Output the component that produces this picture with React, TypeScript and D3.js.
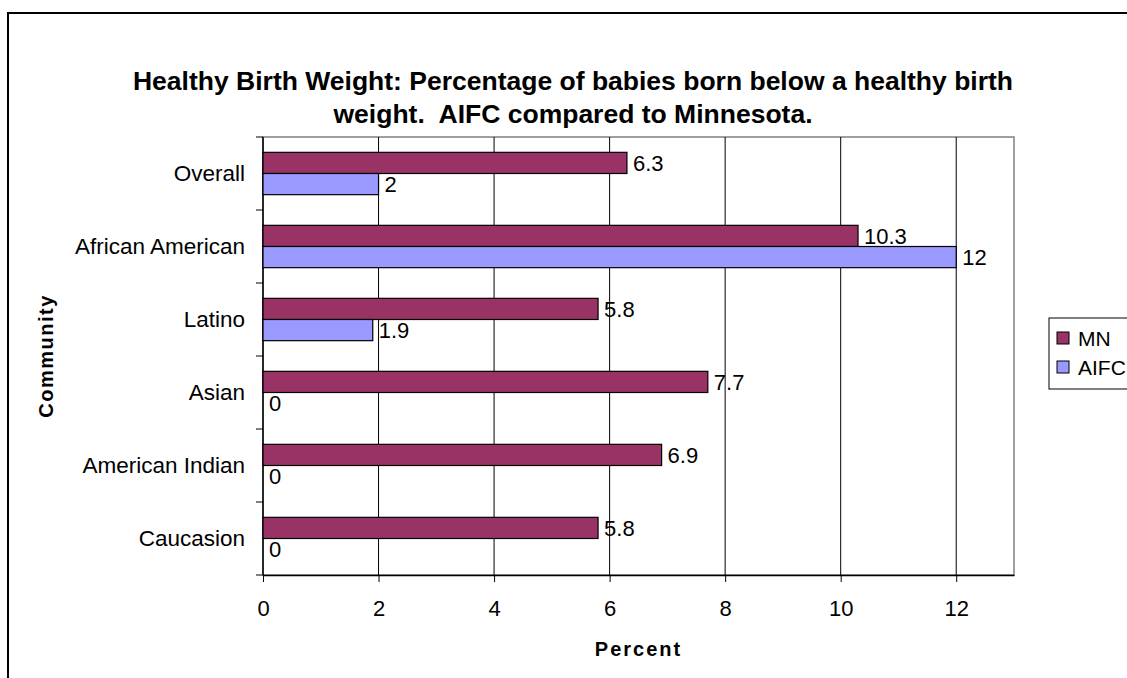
import React, { useEffect, useRef } from 'react';
import * as d3 from 'd3';

const categories = ['Overall', 'African American', 'Latino', 'Asian', 'American Indian', 'Caucasion'];
const seriesNames = ['MN', 'AIFC'];
const mnValues = [6.3, 10.3, 5.8, 7.7, 6.9, 5.8];
const aifcValues = [2, 12, 1.9, 0, 0, 0];
const xTicks = [0, 2, 4, 6, 8, 10, 12];
const colors = ['#993366', '#9999FF'];

const App = () => {
   const svgRef = useRef<SVGSVGElement>(null);

   useEffect(() => {
      const svg = d3.select(svgRef.current);
      svg.selectAll('*').remove();

      const W = 1127;
      const H = 678;
      const plot = { left: 263, top: 137, right: 1014, bottom: 575 };
      const font = 'Arial, "Liberation Sans", sans-serif';
      const labelSize = 22;

      svg.attr('width', W).attr('height', H).style('font-family', font);

      // outer chart frame (runs off the right/bottom of the picture)
      svg.append('rect')
         .attr('x', 8).attr('y', 13)
         .attr('width', W + 20).attr('height', H + 20)
         .attr('fill', 'white')
         .attr('stroke', 'black')
         .attr('stroke-width', 2);

      // title
      const title = svg.append('text')
         .attr('text-anchor', 'middle')
         .attr('font-weight', 'bold')
         .attr('font-size', 26.5)
         .attr('fill', 'black');
      title.append('tspan').attr('x', 573).attr('y', 90)
         .text('Healthy Birth Weight: Percentage of babies born below a healthy birth');
      title.append('tspan').attr('x', 573).attr('y', 123)
         .attr('xml:space', 'preserve')
         .text('weight.  AIFC compared to Minnesota.');

      const x = d3.scaleLinear().domain([0, 13]).range([plot.left, plot.right]);
      const y = d3.scaleBand().domain(categories).range([plot.top, plot.bottom]).paddingInner(0.42).paddingOuter(0.21);
      const inner = d3.scaleBand().domain(seriesNames).range([0, y.bandwidth()]);

      const g = svg.append('g');

      // plot background + border
      g.append('rect')
         .attr('x', plot.left).attr('y', plot.top)
         .attr('width', plot.right - plot.left).attr('height', plot.bottom - plot.top)
         .attr('fill', 'white')
         .attr('stroke', '#808080')
         .attr('stroke-width', 1.5);

      // vertical grid lines
      g.selectAll('.grid')
         .data(xTicks.filter(d => d > 0))
         .enter().append('line')
         .attr('x1', d => x(d)).attr('x2', d => x(d))
         .attr('y1', plot.top).attr('y2', plot.bottom)
         .attr('stroke', 'black').attr('stroke-width', 1);

      // x axis
      const xAxis = g.append('g')
         .attr('transform', `translate(0, ${plot.bottom})`)
         .call(d3.axisBottom(x).tickValues(xTicks).tickSize(7).tickPadding(18).tickSizeOuter(0));
      xAxis.select('.domain').attr('stroke', 'black').attr('stroke-width', 1.5);
      xAxis.selectAll('text').attr('font-size', labelSize).attr('font-family', font).attr('fill', 'black');

      // y axis with ticks at band boundaries
      g.append('line')
         .attr('x1', plot.left).attr('x2', plot.left)
         .attr('y1', plot.top).attr('y2', plot.bottom)
         .attr('stroke', 'black').attr('stroke-width', 1.5);
      const step = y.step();
      const bounds = d3.range(categories.length + 1).map(i => plot.top + i * step);
      g.selectAll('.ytick')
         .data(bounds)
         .enter().append('line')
         .attr('x1', plot.left - 7).attr('x2', plot.left)
         .attr('y1', d => d).attr('y2', d => d)
         .attr('stroke', 'black');

      g.selectAll('.ylabel')
         .data(categories)
         .enter().append('text')
         .attr('x', plot.left - 18)
         .attr('y', d => (y(d) as number) + y.bandwidth() / 2)
         .attr('dy', '0.35em')
         .attr('text-anchor', 'end')
         .attr('font-size', 22.5)
         .text(d => d);

      // bars
      const rows = categories.map((c, i) => ({ c, vals: [mnValues[i], aifcValues[i]] }));
      rows.forEach(row => {
         row.vals.forEach((v, si) => {
            const by = (y(row.c) as number) + (inner(seriesNames[si]) as number);
            g.append('rect')
               .attr('x', x(0)).attr('y', by)
               .attr('width', x(v) - x(0)).attr('height', inner.bandwidth())
               .attr('fill', colors[si])
               .attr('stroke', 'black').attr('stroke-width', 1.2);
            g.append('text')
               .attr('x', x(v) + 6)
               .attr('y', by + inner.bandwidth() / 2)
               .attr('dy', '0.38em')
               .attr('font-size', labelSize)
               .text(v);
         });
      });

      // axis titles
      svg.append('text')
         .attr('x', (plot.left + plot.right) / 2).attr('y', 656)
         .attr('text-anchor', 'middle')
         .attr('font-weight', 'bold').attr('font-size', 20)
         .attr('letter-spacing', 2)
         .text('Percent');
      svg.append('text')
         .attr('transform', `translate(53, ${(plot.top + plot.bottom) / 2}) rotate(-90)`)
         .attr('text-anchor', 'middle')
         .attr('font-weight', 'bold').attr('font-size', 20)
         .attr('letter-spacing', 1.5)
         .text('Community');

      // legend
      const lg = svg.append('g').attr('transform', 'translate(1049, 318)');
      lg.append('rect')
         .attr('width', 110).attr('height', 71)
         .attr('fill', 'white').attr('stroke', 'black').attr('stroke-width', 1);
      seriesNames.forEach((s, i) => {
         lg.append('rect')
            .attr('x', 8).attr('y', 14 + i * 29)
            .attr('width', 12).attr('height', 12)
            .attr('fill', colors[i]).attr('stroke', 'black');
         lg.append('text')
            .attr('x', 29).attr('y', 20 + i * 29)
            .attr('dy', '0.36em')
            .attr('font-size', 21)
            .text(s);
      });
   }, []);

   return (
      <div style={{ position: 'absolute', left: 0, top: 0, background: 'white' }}>
         <svg ref={svgRef} style={{ display: 'block' }}></svg>
      </div>
   );
};

export default App;
